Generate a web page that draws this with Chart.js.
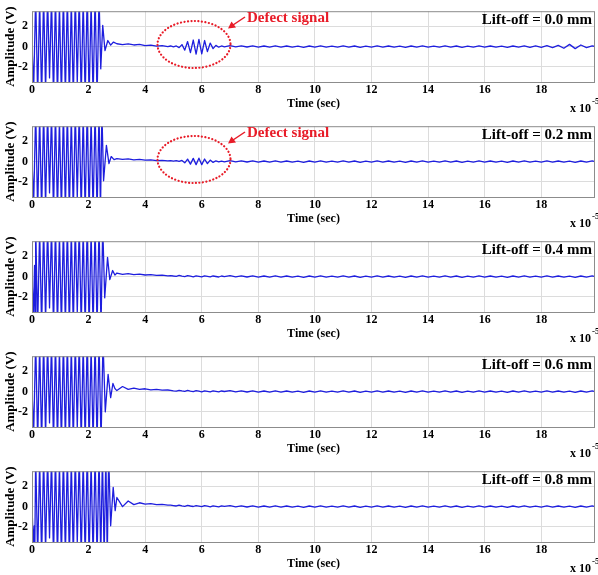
<!DOCTYPE html>
<html>
<head>
<meta charset="utf-8">
<script src="https://cdn.jsdelivr.net/npm/chart.js@4.4.0/dist/chart.umd.min.js"></script>
<style>
  body { margin: 0; background: #fff; }
  canvas { display: block; }
</style>
</head>
<body>
<div id="panels"></div>
<script>
// burst (excitation) extremes, shared by all panels, values clip at the axis limits
const burstT = [0.13, 0.20, 0.27, 0.34, 0.41, 0.48, 0.55, 0.62, 0.69, 0.76,
  0.83, 0.90, 0.97, 1.04, 1.11, 1.18, 1.25, 1.32, 1.39, 1.46,
  1.53, 1.60, 1.67, 1.74, 1.81, 1.88, 1.95, 2.02, 2.09, 2.16,
  2.23, 2.30, 2.37];
const burstV = [5, -5, 4.6, -5, 5, -4.4, 5, -3.1, 4.8, -5,
  5, -5, 4.2, -5, 5, -4.8, 5, -5, 4.5, -5,
  5, -3.6, 5, -5, 4.7, -5, 5, -5, 4.4, -5,
  5, -5, 5];

// start of each trace and the ringing after the burst
const headT1 = [0, 0.06, ...burstT, 2.43, 2.50, 2.58, 2.68, 2.78, 2.88];
const headV1 = [0, -4, ...burstV, -2.2, 2.1, -0.4, 0.6, 0.15, 0.45];
const headT2 = [0, 0.06, ...burstT, 2.42, 2.47, 2.53, 2.63, 2.72, 2.80, 2.90];
const headV2 = [0, -4, ...burstV, -5, 5, -1.9, 1.6, -0.2, 0.5, 0.2];
const headT3 = [0, 0.05, 0.09, 0.11, ...burstT, 2.44, 2.50, 2.57, 2.67, 2.75, 2.85, 2.93];
const headV3 = [0, -4, 1.1, -4, ...burstV, -5, 5, -2.1, 1.9, -0.3, 0.6, 0.15];
const headT4 = [0, 0.06, ...burstT, 2.44, 2.51, 2.59, 2.69, 2.78, 2.86, 2.93];
const headV4 = [0, -4, ...burstV, -5, 5, -2.0, 1.7, -0.6, 0.8, 0.3];
const headT5 = [0, 0.05, 0.08, 0.10, ...burstT, 2.43, 2.49, 2.55, 2.61, 2.66, 2.71, 2.78, 2.87, 2.94];
const headV5 = [0, -4, -1.9, -4, ...burstV, -5, 5, -5, 5, -5, 5, -1.9, 1.9, -0.4];

// tail sample times (finer around the defect echo)
const tailT = [3.0, 3.2, 3.4, 3.6, 3.8, 4.0, 4.2, 4.4, 4.6, 4.8,
  4.9, 5.0, 5.1, 5.2, 5.3, 5.4, 5.5, 5.6, 5.7, 5.8,
  5.9, 6.0, 6.1, 6.2, 6.3, 6.4, 6.5, 6.6, 6.7, 6.8,
  7.0, 7.2, 7.4, 7.6, 7.8, 8.0, 8.2, 8.4, 8.6, 8.8,
  9.0, 9.2, 9.4, 9.6, 9.8, 10.0, 10.2, 10.4, 10.6, 10.8,
  11.0, 11.2, 11.4, 11.6, 11.8, 12.0, 12.2, 12.4, 12.6, 12.8,
  13.0, 13.2, 13.4, 13.6, 13.8, 14.0, 14.2, 14.4, 14.6, 14.8,
  15.0, 15.2, 15.4, 15.6, 15.8, 16.0, 16.2, 16.4, 16.6, 16.8,
  17.0, 17.2, 17.4, 17.6, 17.8, 18.0, 18.2, 18.4, 18.6, 18.8,
  19.0, 19.2, 19.4, 19.6, 19.8, 20.0];

// 3.0 - 6.8 of each trace
const near1 = [0.28, 0.2, 0.26, 0.16, 0.21, 0.1, 0.15, 0.04, 0.1, 0.0,
  0.06, -0.02, 0.06, -0.1, 0.2, -0.35, 0.5, -0.6, 0.65, -0.75,
  0.72, -0.72, 0.6, -0.5, 0.35, -0.2, 0.12, -0.06, 0.06, -0.03];
const near2 = [0.3, 0.22, 0.26, 0.18, 0.22, 0.14, 0.17, 0.1, 0.13, 0.07,
  0.1, 0.05, 0.09, 0.02, 0.12, -0.12, 0.25, -0.25, 0.32, -0.3,
  0.34, -0.3, 0.26, -0.2, 0.15, -0.08, 0.08, -0.02, 0.05, -0.02];
const near3 = [0.35, 0.22, 0.3, 0.2, 0.24, 0.16, 0.2, 0.12, 0.15, 0.08,
  0.1, 0.06, 0.03, 0.11, 0.05, 0.0, 0.09, 0.04, -0.02, 0.08,
  0.03, -0.03, 0.07, 0.02, -0.03, 0.06, 0.01, -0.04, 0.06, 0.0];
const near4 = [0.1, 0.5, 0.22, 0.35, 0.22, 0.28, 0.18, 0.22, 0.14, 0.16,
  0.12, 0.08, 0.05, 0.13, 0.07, 0.02, 0.11, 0.05, 0.0, 0.09,
  0.04, -0.02, 0.08, 0.03, -0.02, 0.07, 0.02, -0.03, 0.06, 0.01];
const near5 = [0.9, 0.0, 0.55, 0.2, 0.38, 0.25, 0.3, 0.2, 0.22, 0.15,
  0.14, 0.1, 0.06, 0.14, 0.08, 0.03, 0.12, 0.06, 0.01, 0.1,
  0.05, -0.01, 0.09, 0.04, -0.02, 0.08, 0.03, -0.03, 0.07, 0.02];

// 7.0 - 20.0: small ripple around zero
const ripple1 = [0.09, -0.03, 0.08, -0.04, 0.07, -0.05, 0.06, -0.06, 0.07, -0.05,
  0.06, -0.06, 0.05, -0.07, 0.06, -0.05, 0.07, -0.06, 0.05, -0.06,
  0.07, -0.05, 0.06, -0.07, 0.05, -0.06, 0.07, -0.05, 0.06, -0.06,
  0.05, -0.07, 0.06, -0.05, 0.07, -0.06, 0.05, -0.06, 0.07, -0.05,
  0.06, -0.07, 0.05, -0.06, 0.07, -0.05, 0.06, -0.06, 0.05, -0.07,
  0.06, -0.05, 0.08, -0.07, 0.07, -0.08, 0.09, -0.1, 0.12, -0.16,
  0.22, -0.2, 0.16, -0.1, 0.07, -0.05];
const ripple = [0.09, -0.03, 0.08, -0.04, 0.07, -0.05, 0.06, -0.06, 0.07, -0.05,
  0.06, -0.06, 0.05, -0.07, 0.06, -0.05, 0.07, -0.06, 0.05, -0.06,
  0.07, -0.05, 0.06, -0.07, 0.05, -0.06, 0.07, -0.05, 0.06, -0.06,
  0.05, -0.07, 0.06, -0.05, 0.07, -0.06, 0.05, -0.06, 0.07, -0.05,
  0.06, -0.07, 0.05, -0.06, 0.07, -0.05, 0.06, -0.06, 0.05, -0.07,
  0.06, -0.05, 0.07, -0.06, 0.05, -0.06, 0.07, -0.05, 0.06, -0.06,
  0.05, -0.07, 0.06, -0.05, 0.07, -0.06];

const liftOffLabels = ['Lift-off = 0.0 mm', 'Lift-off = 0.2 mm', 'Lift-off = 0.4 mm',
  'Lift-off = 0.6 mm', 'Lift-off = 0.8 mm'];
const xTicks = [0, 2, 4, 6, 8, 10, 12, 14, 16, 18];
const yTicks = [-2, 0, 2];

const panels = [
  { times: [...headT1, ...tailT], values: [...headV1, ...near1, ...ripple1], defect: true },
  { times: [...headT2, ...tailT], values: [...headV2, ...near2, ...ripple], defect: true },
  { times: [...headT3, ...tailT], values: [...headV3, ...near3, ...ripple], defect: false },
  { times: [...headT4, ...tailT], values: [...headV4, ...near4, ...ripple], defect: false },
  { times: [...headT5, ...tailT], values: [...headV5, ...near5, ...ripple], defect: false },
];

const FONT = '"Liberation Serif", "Times New Roman", serif';
const LINE_BLUE = 'rgb(30,30,222)';
const RED = 'rgb(232,28,40)';

/** Draws the plot box, lift-off label, exponent and the defect annotation */
function makeDecor(index) {
  return {
    id: 'decor' + index,
    afterDraw(chart) {
      const { ctx, chartArea: a } = chart;
      ctx.save();
      ctx.strokeStyle = '#8c8c8c';
      ctx.lineWidth = 1;
      ctx.strokeRect(a.left + 0.5, a.top + 0.5, a.right - a.left - 1, a.bottom - a.top);

      ctx.fillStyle = '#000';
      ctx.textBaseline = 'alphabetic';
      ctx.font = `bold 15px ${FONT}`;
      ctx.textAlign = 'right';
      ctx.fillText(liftOffLabels[index], 592, 24);

      ctx.textAlign = 'left';
      ctx.font = `bold 12px ${FONT}`;
      ctx.fillText('x 10', 570, 112);
      ctx.font = `bold 9px ${FONT}`;
      ctx.fillText('-5', 592, 104);

      if (panels[index].defect) {
        ctx.strokeStyle = RED;
        ctx.fillStyle = RED;
        ctx.lineWidth = 2.2;
        ctx.lineCap = 'round';
        ctx.setLineDash([0.1, 3.4]);
        ctx.beginPath();
        ctx.ellipse(194, 44.5, 36.5, 23.5, 0, 0, Math.PI * 2);
        ctx.stroke();
        ctx.setLineDash([]);
        ctx.lineWidth = 1.5;
        ctx.lineCap = 'butt';
        ctx.beginPath();
        ctx.moveTo(245, 17);
        ctx.lineTo(233, 25);
        ctx.stroke();
        ctx.beginPath();
        ctx.moveTo(228, 28.5);
        ctx.lineTo(231.5, 21.5);
        ctx.lineTo(236, 27.5);
        ctx.closePath();
        ctx.fill();
        ctx.font = `bold 15px ${FONT}`;
        ctx.fillText('Defect signal', 247, 22);
      }
      ctx.restore();
    }
  };
}

/** Builds one stacked subplot */
function buildChart(canvas, panel, index) {
  const points = panel.times.map((t, i) => ({ x: t, y: panel.values[i] }));
  return new Chart(canvas, {
    type: 'line',
    data: {
      datasets: [{
        data: points,
        borderColor: LINE_BLUE,
        borderWidth: 1.3,
        borderJoinStyle: 'round',
        pointRadius: 0,
        tension: 0,
        clip: 0
      }]
    },
    options: {
      responsive: false,
      animation: false,
      layout: { padding: { top: 10, right: 3, left: 0, bottom: 0 } },
      plugins: { legend: { display: false }, tooltip: { enabled: false } },
      scales: {
        x: {
          type: 'linear',
          min: 0,
          max: 19.9,
          afterBuildTicks: s => { s.ticks = xTicks.map(v => ({ value: v })); },
          afterFit: s => { s.height = 33; },
          grid: { color: '#dcdcdc', drawTicks: false },
          border: { display: false },
          ticks: { padding: 1, color: '#000', font: { family: FONT, size: 12, weight: 'bold' } },
          title: {
            display: true,
            text: 'Time (sec)',
            color: '#000',
            padding: { top: 0, bottom: 4 },
            font: { family: FONT, size: 12, weight: 'bold' }
          }
        },
        y: {
          min: -3.5,
          max: 3.5,
          afterBuildTicks: s => { s.ticks = yTicks.map(v => ({ value: v })); },
          afterFit: s => { s.width = 32; },
          grid: { color: '#dcdcdc', drawTicks: false },
          border: { display: false },
          ticks: { padding: 4, color: '#000', font: { family: FONT, size: 12, weight: 'bold' } },
          title: {
            display: true,
            text: 'Amplitude (V)',
            color: '#000',
            padding: { top: 3, bottom: 0 },
            font: { family: FONT, size: 13, weight: 'bold' }
          }
        }
      }
    },
    plugins: [makeDecor(index)]
  });
}

const holder = document.getElementById('panels');
panels.forEach((panel, i) => {
  const canvas = document.createElement('canvas');
  canvas.width = 598;
  canvas.height = 115;
  canvas.style.width = '598px';
  canvas.style.height = '115px';
  holder.appendChild(canvas);
  buildChart(canvas, panel, i);
});
</script>
</body>
</html>
